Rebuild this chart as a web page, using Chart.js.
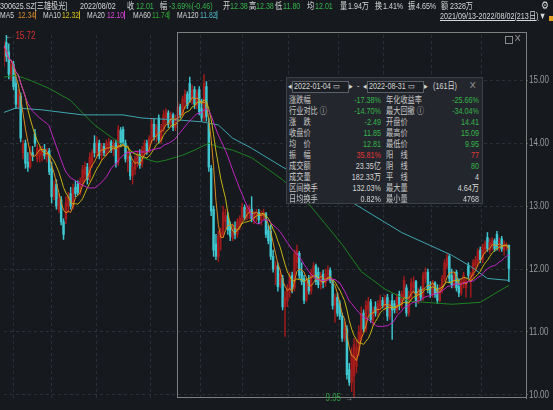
<!DOCTYPE html>
<html>
<head>
<meta charset="utf-8">
<script src="https://cdn.jsdelivr.net/npm/chart.js@4.4.1/dist/chart.umd.min.js"></script>
<style>
html, body { margin: 0; padding: 0; background: #16191e; }
#wrap { position: relative; width: 553px; height: 410px; overflow: hidden;
        font-family: "Liberation Sans", "Noto Sans CJK SC", sans-serif; color: #c9c9c9; }
#c { position: absolute; left: 0; top: 0; }
/* the source screenshot is squeezed horizontally, so text is narrowed */
.t { position: absolute; white-space: nowrap; font-size: 10px; line-height: 11px; transform: scaleX(0.8); transform-origin: 0 0; }
.l1 { font-size: 9.5px; transform: scaleX(0.75); }
.l2 { font-size: 8.5px; }
.g { color: #35b54a; }
.r { color: #e0383a; }
.w { color: #d6d6d6; }
#box { position: absolute; left: 286px; top: 77px; width: 195px; height: 125px; background: #23262c; border: 1px solid #3b3f46; }
#box .t { font-size: 9px; }
.v1 { left: 40px; width: 54px; text-align: right; transform-origin: 100% 0 !important; }
.v2 { left: 140px; width: 52px; text-align: right; transform-origin: 100% 0 !important; }
.date { position: absolute; top: 3px; height: 10px; border: 1px solid #5a5e66; background: #1b1e23; }
</style>
</head>
<body>
<div id="wrap">
  <canvas id="c" width="553" height="410"></canvas>

  <!-- header line 1 -->
  <div class="t l1 w" style="left:0;top:0">300625.SZ[三雄极光]</div>
  <div class="t l1 w" style="left:80px;top:0">2022/08/02</div>
  <div class="t l1 w" style="left:127px;top:0">收</div><div class="t l1 g" style="left:136px;top:0">12.01</div>
  <div class="t l1 w" style="left:160px;top:0">幅</div><div class="t l1 g" style="left:169px;top:0">-3.69%(-0.46)</div>
  <div class="t l1 w" style="left:223px;top:0">开</div><div class="t l1 g" style="left:230px;top:0">12.38</div>
  <div class="t l1 w" style="left:249px;top:0">高</div><div class="t l1 g" style="left:256px;top:0">12.38</div>
  <div class="t l1 w" style="left:275px;top:0">低</div><div class="t l1 g" style="left:283px;top:0">11.80</div>
  <div class="t l1 w" style="left:307px;top:0">均</div><div class="t l1 g" style="left:315px;top:0">12.01</div>
  <div class="t l1 w" style="left:340px;top:0">量</div><div class="t l1 w" style="left:348px;top:0">1.94万</div>
  <div class="t l1 w" style="left:375px;top:0">换</div><div class="t l1 w" style="left:383px;top:0">1.41%</div>
  <div class="t l1 w" style="left:408px;top:0">振</div><div class="t l1 w" style="left:416px;top:0">4.65%</div>
  <div class="t l1 w" style="left:441px;top:0">额</div><div class="t l1 w" style="left:450px;top:0">2328万</div>
  <div class="t w" style="left:541px;top:0;font-size:11px">⚙</div>

  <!-- header line 2 -->
  <div class="t w l2" style="left:0;top:10px">MA5</div><div class="t l2" style="left:18px;top:10px;color:#dc8c2a">12.34▏</div>
  <div class="t w l2" style="left:43px;top:10px">MA10</div><div class="t l2" style="left:62px;top:10px;color:#d6c31e">12.32▏</div>
  <div class="t w l2" style="left:87px;top:10px">MA20</div><div class="t l2" style="left:107px;top:10px;color:#e044e0">12.10▏</div>
  <div class="t w l2" style="left:133px;top:10px">MA60</div><div class="t l2" style="left:152px;top:10px;color:#2fa82f">11.74▏</div>
  <div class="t w l2" style="left:177px;top:10px">MA120</div><div class="t l2" style="left:200px;top:10px;color:#4fb8c8">11.82▏</div>
  <div class="t w" style="left:440px;top:11px;font-size:9px;text-decoration:underline">2021/09/13-2022/08/02(213日)</div>
  <div class="t w" style="left:539px;top:11px;font-size:9px">▼</div>
  <div style="position:absolute;left:549px;top:16px;width:4px;height:5px;background:#e0a020"></div>

  <!-- selection icons -->
  <div style="position:absolute;left:505px;top:36px;width:6px;height:6px;border:1px solid #8a8a8a"></div>
  <div class="t" style="left:514px;top:33px;color:#8a8a8a;font-size:11px">✕</div>

  <!-- statistics box -->
  <div id="box">
    <div class="t w" style="left:1px;top:3px">◂</div>
    <div class="date" style="left:5px;width:55px"></div>
    <div class="t w" style="left:7px;top:3px">2022-01-04 ▭</div>
    <div class="t w" style="left:62px;top:3px">▸</div>
    <div class="t w" style="left:70px;top:3px">-</div>
    <div class="t w" style="left:76px;top:3px">◂</div>
    <div class="date" style="left:80px;width:55px"></div>
    <div class="t w" style="left:82px;top:3px">2022-08-31 ▭</div>
    <div class="t w" style="left:137px;top:3px">▸</div>
    <div class="t w" style="left:146px;top:3px">(161日)</div>
    <div class="t" style="left:182px;top:2px;color:#888;font-size:11px">✕</div>

    <div class="t" style="left:2px;top:17px">涨跌幅</div><div class="t g v1" style="top:17px">-17.38%</div>
    <div class="t" style="left:99px;top:17px">年化收益率</div><div class="t g v2" style="top:17px">-25.66%</div>
    <div class="t" style="left:2px;top:28px">行业对比 ⓘ</div><div class="t g v1" style="top:28px">-14.70%</div>
    <div class="t" style="left:99px;top:28px">最大回撤 ⓘ</div><div class="t g v2" style="top:28px">-34.04%</div>
    <div class="t" style="left:2px;top:39px">涨　跌</div><div class="t g v1" style="top:39px">-2.49</div>
    <div class="t" style="left:99px;top:39px">开盘价</div><div class="t g v2" style="top:39px">14.41</div>
    <div class="t" style="left:2px;top:50px">收盘价</div><div class="t g v1" style="top:50px">11.85</div>
    <div class="t" style="left:99px;top:50px">最高价</div><div class="t g v2" style="top:50px">15.09</div>
    <div class="t" style="left:2px;top:61px">均　价</div><div class="t g v1" style="top:61px">12.81</div>
    <div class="t" style="left:99px;top:61px">最低价</div><div class="t g v2" style="top:61px">9.95</div>
    <div class="t" style="left:2px;top:72px">振　幅</div><div class="t r v1" style="top:72px">35.81%</div>
    <div class="t" style="left:99px;top:72px">阳　线</div><div class="t r v2" style="top:72px">77</div>
    <div class="t" style="left:2px;top:83px">成交额</div><div class="t w v1" style="top:83px">23.35亿</div>
    <div class="t" style="left:99px;top:83px">阴　线</div><div class="t g v2" style="top:83px">80</div>
    <div class="t" style="left:2px;top:94px">成交量</div><div class="t w v1" style="top:94px">182.33万</div>
    <div class="t" style="left:99px;top:94px">平　线</div><div class="t w v2" style="top:94px">4</div>
    <div class="t" style="left:2px;top:105px">区间换手</div><div class="t w v1" style="top:105px">132.03%</div>
    <div class="t" style="left:99px;top:105px">最大量</div><div class="t w v2" style="top:105px">4.64万</div>
    <div class="t" style="left:2px;top:116px">日均换手</div><div class="t w v1" style="top:116px">0.82%</div>
    <div class="t" style="left:99px;top:116px">最小量</div><div class="t w v2" style="top:116px">4768</div>
  </div>
</div>

<script>
// daily candles 2021/09/13 .. 2022/08/02, [open, high, low, close]
const candles = [
  [15.30,15.62,15.22,15.55],[15.60,15.72,15.30,15.38],[15.45,15.58,15.02,15.10],[15.10,15.30,15.00,15.25],[15.25,15.30,14.85,14.90],
  [14.95,15.05,14.55,14.62],[14.62,14.85,14.55,14.78],[14.75,14.80,14.02,14.08],[13.85,14.05,13.75,13.98],[14.00,14.05,13.60,13.68],
  [13.70,13.85,13.55,13.62],[13.62,13.95,13.60,13.88],[13.85,13.95,13.72,13.80],[14.15,14.22,13.95,14.00],[13.75,13.98,13.70,13.92],
  [13.80,13.95,13.70,13.88],[13.82,13.95,13.72,13.90],[13.90,13.98,13.75,13.80],[13.78,13.92,13.70,13.85],[13.88,13.92,13.50,13.55],
  [13.60,13.70,13.05,13.15],[13.15,13.40,13.10,13.30],[13.35,13.42,12.95,13.00],[12.95,13.20,12.90,13.10],[13.10,13.15,12.70,12.75],
  [12.75,12.80,12.47,12.55],[12.80,13.15,12.72,13.05],[13.00,13.22,12.90,13.15],[13.20,13.30,12.95,13.00],[12.98,13.35,12.95,13.28],
  [13.30,13.40,13.15,13.20],[13.35,13.40,13.18,13.22],[13.22,13.45,13.18,13.40],[13.38,13.65,13.32,13.58],[13.50,13.70,13.40,13.62],
  [13.62,13.68,13.35,13.42],[13.45,13.85,13.40,13.78],[13.70,13.90,13.62,13.85],[14.00,14.12,13.78,13.85],[13.82,14.10,13.78,14.02],
  [14.00,14.05,13.75,13.80],[13.80,14.00,13.72,13.95],[13.95,14.00,13.80,13.85],[13.82,14.05,13.80,14.00],[13.95,14.08,13.85,14.02],
  [14.02,14.05,13.85,13.90],[13.88,14.05,13.80,14.00],[14.00,14.05,13.62,13.68],[13.70,14.28,13.65,14.22],[14.20,14.25,13.95,14.00],
  [14.22,14.26,13.98,14.02],[14.00,14.05,13.70,13.75],[13.72,13.88,13.55,13.80],[13.80,13.85,13.42,13.48],[13.48,13.70,13.35,13.62],
  [13.58,13.80,13.50,13.75],[13.70,13.88,13.62,13.82],[13.82,13.90,13.60,13.65],[13.68,13.95,13.62,13.90],[13.85,14.05,13.80,14.00],
  [14.00,14.05,13.82,13.88],[13.88,14.12,13.85,14.08],[14.05,14.40,14.00,14.32],[14.30,14.38,14.05,14.10],[14.10,14.30,14.02,14.25],
  [14.40,14.45,14.00,14.05],[14.05,14.30,14.00,14.22],[14.22,14.52,14.18,14.45],[14.40,14.55,14.30,14.50],[14.48,14.52,14.25,14.30],
  [14.30,14.50,14.25,14.45],[14.45,14.48,14.20,14.25],[14.25,14.45,14.20,14.40],[14.41,14.65,14.35,14.58],[14.58,14.62,14.40,14.45],
  [14.45,14.75,14.42,14.70],[14.65,14.85,14.55,14.78],[14.78,14.82,14.55,14.60],[14.95,15.05,14.65,14.70],[14.70,14.92,14.62,14.85],
  [14.85,14.90,14.55,14.62],[14.60,14.85,14.55,14.80],[14.85,14.90,14.45,14.50],[14.55,14.70,14.35,14.40],[14.40,15.09,14.35,14.95],
  [14.90,14.98,14.35,14.42],[14.30,14.40,13.55,13.62],[13.60,13.65,12.85,12.92],[12.95,13.00,12.20,12.30],[12.40,12.55,12.15,12.20],
  [12.20,12.60,12.12,12.52],[12.50,12.65,12.30,12.58],[12.55,13.00,12.50,12.90],[12.75,12.95,12.65,12.85],[12.85,12.90,12.55,12.62],
  [12.70,12.75,12.45,12.52],[12.50,12.72,12.45,12.65],[12.65,12.75,12.48,12.55],[12.55,12.80,12.50,12.75],[12.68,12.85,12.62,12.80],
  [12.78,13.05,12.75,12.98],[12.98,13.02,12.78,12.82],[12.82,13.00,12.78,12.95],[12.90,13.02,12.80,12.98],[12.95,13.15,12.75,12.80],
  [12.80,12.92,12.72,12.88],[12.85,12.95,12.75,12.90],[12.90,12.95,12.72,12.78],[12.78,12.92,12.70,12.88],[12.85,12.95,12.78,12.90],
  [12.88,12.90,12.50,12.55],[12.62,12.70,12.40,12.45],[12.60,12.70,12.15,12.20],[12.20,12.30,11.95,12.00],[12.00,12.12,11.75,12.05],
  [12.05,12.10,11.65,11.72],[11.75,12.00,11.70,11.92],[11.85,11.90,11.35,11.40],[11.40,11.65,10.93,11.55],[11.50,11.75,11.40,11.70],
  [11.65,11.95,11.55,11.88],[11.90,11.95,11.62,11.68],[11.70,12.30,11.65,12.25],[12.10,12.38,12.00,12.30],[12.25,12.28,11.85,11.90],
  [11.95,12.10,11.75,11.80],[11.85,11.90,11.45,11.50],[11.52,11.85,11.48,11.80],[11.82,11.90,11.60,11.65],[11.65,12.00,11.60,11.92],
  [11.90,12.10,11.85,12.05],[12.05,12.08,11.75,11.80],[11.95,12.02,11.70,11.75],[11.75,11.95,11.68,11.90],[11.92,11.98,11.70,11.78],
  [11.78,12.00,11.72,11.92],[11.90,12.05,11.82,11.98],[11.98,12.02,11.78,11.82],[11.80,11.82,11.36,11.42],[11.42,11.60,11.15,11.55],
  [11.55,11.62,11.25,11.30],[11.45,11.50,11.20,11.25],[11.25,11.30,10.85,10.90],[10.90,11.15,10.85,11.05],[11.05,11.10,10.25,10.32],
  [10.40,10.50,10.15,10.20],[10.20,10.75,10.05,10.65],[10.30,10.90,9.95,10.80],[10.45,10.88,10.35,10.75],[10.70,11.10,10.62,11.00],
  [10.90,11.40,10.85,11.30],[11.30,11.35,11.00,11.05],[11.05,11.50,11.00,11.42],[11.35,11.55,11.25,11.48],[11.48,11.52,11.15,11.20],
  [11.18,11.40,11.10,11.35],[11.40,11.48,11.25,11.30],[11.30,11.50,11.25,11.45],[11.40,11.58,11.35,11.50],[11.50,11.55,11.38,11.42],
  [11.40,11.58,11.35,11.52],[11.55,11.60,11.18,11.25],[11.25,11.50,11.20,11.45],[11.50,11.60,10.88,11.35],[11.45,11.50,11.30,11.35],
  [11.35,11.60,11.30,11.55],[11.60,11.65,11.35,11.42],[11.42,11.65,11.38,11.60],[11.55,11.88,11.50,11.82],[11.70,11.75,11.25,11.30],
  [11.30,11.65,11.25,11.55],[11.55,11.85,11.50,11.78],[11.70,11.88,11.62,11.80],[11.80,11.82,11.40,11.48],[11.50,11.70,11.45,11.65],
  [11.68,11.72,11.50,11.55],[11.55,11.95,11.50,11.90],[11.85,12.02,11.78,11.95],[11.95,12.00,11.62,11.68],[11.72,11.80,11.55,11.60],
  [11.60,11.82,11.55,11.78],[11.78,11.80,11.55,11.60],[11.70,11.75,11.45,11.50],[11.50,11.75,11.48,11.70],[11.68,11.90,11.62,11.85],
  [11.85,12.15,11.80,12.10],[12.05,12.25,12.00,12.18],[12.20,12.23,11.78,11.85],[11.90,12.00,11.70,11.75],[11.75,11.95,11.70,11.90],
  [11.95,11.98,11.65,11.70],[11.72,11.85,11.56,11.62],[11.62,11.85,11.58,11.80],[11.78,11.95,11.70,11.90],[11.70,11.85,11.55,11.80],
  [12.05,12.10,11.85,11.90],[11.80,11.95,11.55,11.92],[11.90,12.15,11.85,12.10],[12.05,12.20,11.98,12.15],[12.10,12.32,12.05,12.28],
  [12.30,12.35,12.10,12.15],[12.15,12.40,12.10,12.35],[12.30,12.45,12.25,12.40],[12.50,12.58,12.28,12.32],[12.30,12.48,12.25,12.42],
  [12.38,12.50,12.30,12.45],[12.45,12.48,12.28,12.32],[12.55,12.60,12.30,12.35],[12.32,12.50,12.28,12.45],[12.48,12.52,12.28,12.32],
  [12.30,12.45,12.22,12.40],[12.35,12.42,12.30,12.38],[12.38,12.38,11.80,12.01]
];

// long moving averages: [day index, value]
const ma60Pts = [[0,15.05],[5,15.08],[11,15.00],[19,14.87],[28,14.68],[33,14.48],[38,14.29],[46,14.07],[53,13.89],[58,13.77],
  [64,13.70],[68,13.73],[75,13.81],[80,13.89],[86,14.00],[90,13.94],[96,13.89],[104,13.77],[117,13.42],[129,12.99],
  [142,12.39],[150,11.96],[160,11.68],[170,11.49],[188,11.44],[200,11.47],[207,11.63],[212,11.74]];
const ma120Pts = [[0,14.49],[5,14.56],[16,14.53],[33,14.45],[50,14.45],[58,14.40],[73,14.37],[83,14.34],[90,14.29],
  [96,14.08],[104,13.92],[117,13.62],[147,13.04],[167,12.58],[188,12.22],[196,12.04],[203,11.85],[212,11.82]];

// first trading day of each month (grid lines)
const monthStarts = [12, 28, 50, 73, 92, 108, 131, 150, 169, 190, 211];
const priceTicks = [10, 11, 12, 13, 14, 15];
const eventDays = [2,16,30,67,76,85,108,122,126,130,133,134,146,149,160,162,167,171,172,174,175,187,201];
const eventDaysRed = [158, 170, 178];
const selStart = 73;   // 2022-01-04
const yMin = 9.95, yMax = 15.72;

const UP = "#a31b1b", DOWN = "#3fc6cf";

const highs = candles.map(c => c[1]);
const lows = candles.map(c => c[2]);
const closes = candles.map(c => c[3]);

function movingAvg(n) {
    return closes.map((v, i) => {
        const part = closes.slice(Math.max(0, i - n + 1), i + 1);
        return { x: i, y: part.reduce((a, b) => a + b, 0) / part.length };
    });
}

const colors = candles.map(c => c[3] >= c[0] ? UP : DOWN);
const bodies = candles.map((c, i) => ({ x: i, y: [c[0], c[3]] }));
const wicks = candles.map((c, i) => ({ x: i, y: [c[2], c[1]] }));

function maLine(label, data, color, order) {
    return { type: "line", label: label, data: data, borderColor: color, borderWidth: 1,
             pointRadius: 0, tension: 0, order: order };
}

// narrow text, like the squeezed screenshot
function squeezedText(ctx, txt, px, py, align) {
    ctx.save();
    ctx.translate(px, py);
    ctx.scale(0.8, 1);
    ctx.textAlign = align;
    ctx.fillText(txt, 0, 0);
    ctx.restore();
}

const overlay = {
    id: "overlay",
    afterDatasetsDraw(chart) {
        const { ctx, chartArea: a, scales } = chart;
        const x = scales.x, y = scales.y;
        ctx.save();
        // selected range frame
        const sx = Math.round(x.getPixelForValue(selStart)) - 0.5;
        ctx.strokeStyle = "#7e7e7e";
        ctx.lineWidth = 1;
        ctx.strokeRect(sx, a.top - 2.5, Math.round(a.right) - sx + 0.5, a.bottom - a.top + 2);

        ctx.font = "10px 'Liberation Sans', sans-serif";
        ctx.textBaseline = "middle";
        // price labels of the right axis
        ctx.fillStyle = "#9a9a9a";
        y.ticks.forEach(t => squeezedText(ctx, t.value.toFixed(2), a.right + 3, y.getPixelForValue(t.value), "left"));

        // highest price marker
        const hi = Math.max(...highs), hiIdx = highs.indexOf(hi);
        const hx = x.getPixelForValue(hiIdx) - 1, hy = y.getPixelForValue(hi) + 1;
        ctx.fillStyle = "#9a9a9a";
        squeezedText(ctx, "←", hx, hy, "left");
        ctx.fillStyle = "#d23434";
        squeezedText(ctx, hi.toFixed(2), hx + 10, hy, "left");
        // lowest price marker
        const lo = Math.min(...lows), loIdx = lows.indexOf(lo);
        const lx = x.getPixelForValue(loIdx) - 1, ly = y.getPixelForValue(lo);
        ctx.fillStyle = "#9a9a9a";
        squeezedText(ctx, "→", lx, ly, "right");
        ctx.fillStyle = "#2f9e44";
        squeezedText(ctx, lo.toFixed(2), lx - 12, ly, "right");
        ctx.restore();
    }
};

const gridColor = "#2b2f36";

new Chart(document.getElementById("c"), {
    type: "bar",
    data: {
        datasets: [
            { label: "wick", data: wicks, backgroundColor: colors, barThickness: 0.8, grouped: false, order: 3 },
            { label: "body", data: bodies, backgroundColor: colors, barThickness: 1.8, minBarLength: 1, grouped: false, order: 2 },
            maLine("MA120", ma120Pts.map(p => ({ x: p[0], y: p[1] })), "#3fa6b2", 1),
            maLine("MA60", ma60Pts.map(p => ({ x: p[0], y: p[1] })), "#1d8322", 1),
            maLine("MA20", movingAvg(20), "#c526c5", 0),
            maLine("MA10", movingAvg(10), "#c7b414", 0),
            maLine("MA5", movingAvg(5), "#d9891c", 0),
            { type: "scatter", label: "events", yAxisID: "ev", data: eventDays.map(d => ({ x: d, y: 1.025 })),
              pointRadius: 1.3, backgroundColor: "#d0d0d0", borderWidth: 0, clip: false, order: 0 },
            { type: "scatter", label: "eventsRed", yAxisID: "ev", data: eventDaysRed.map(d => ({ x: d, y: 1.025 })),
              pointStyle: "rectRot", pointRadius: 2, backgroundColor: "#d42424", borderWidth: 0, clip: false, order: 0 }
        ]
    },
    options: {
        responsive: false,
        animation: false,
        devicePixelRatio: 1,
        layout: { padding: { top: 35, bottom: 12, left: 0, right: 0 } },
        plugins: { legend: { display: false }, tooltip: { enabled: false } },
        scales: {
            x: {
                type: "linear", min: 0, max: 219.2, offset: false,
                afterBuildTicks: s => { s.ticks = monthStarts.map(v => ({ value: v })); },
                afterFit: s => { s.height = 0; },
                ticks: { display: false },
                grid: { color: gridColor, drawTicks: false },
                border: { display: false, dash: [3, 3] }
            },
            y: {
                position: "right", min: yMin, max: yMax,
                afterBuildTicks: s => { s.ticks = priceTicks.map(v => ({ value: v })); },
                afterFit: s => { s.width = 27; },
                ticks: { display: false },
                grid: { color: gridColor, tickLength: 2, tickColor: "#555" },
                border: { display: true, color: "#7e7e7e", dash: [3, 3] }
            },
            ev: { display: false, min: 0, max: 1 }
        }
    },
    plugins: [overlay]
});
</script>
</body>
</html>
